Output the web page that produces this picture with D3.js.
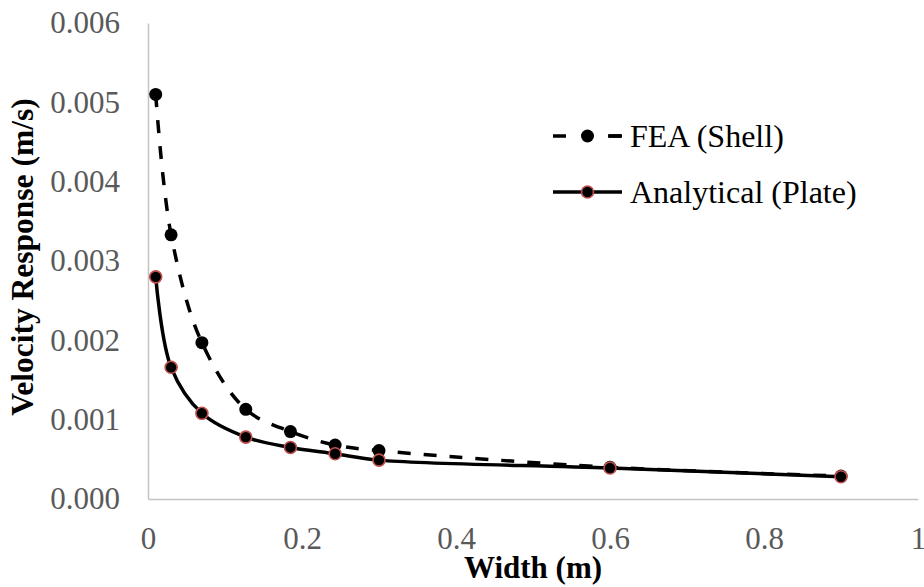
<!DOCTYPE html>
<html lang="en">
<head>
    <meta charset="UTF-8">
    <title>Velocity Response vs Width</title>
    <script src="https://cdnjs.cloudflare.com/ajax/libs/d3/7.9.0/d3.min.js"></script>
    <style>
        body { margin: 0; background: #fff; }
        svg { display: block; font-family: "Liberation Serif", "Times New Roman", serif; }
    </style>
</head>
<body>
    <div id="chart"></div>

    <script>
        // values
        const widths = [0.01, 0.03, 0.07, 0.127, 0.185, 0.243, 0.3, 0.6, 0.9];
        const feaShell = [0.0051, 0.00333, 0.00197, 0.00113, 0.00085, 0.00068, 0.00061, 0.00040, 0.00029];
        const analyticalPlate = [0.0028, 0.00166, 0.00108, 0.00078, 0.00065, 0.00057, 0.00049, 0.00039, 0.00028];
        const seriesNames = ["FEA (Shell)", "Analytical (Plate)"];
        const xTicks = [0, 0.2, 0.4, 0.6, 0.8, 1];
        const yTicks = [0, 0.001, 0.002, 0.003, 0.004, 0.005, 0.006];

        const width = 924, height = 587;
        const margin = { top: 23, right: 6, bottom: 88, left: 148 };
        const serif = '"Liberation Serif", "Times New Roman", serif';

        const svg = d3.select("#chart")
            .append("svg")
            .attr("width", width)
            .attr("height", height);

        const x = d3.scaleLinear()
            .domain([0, 1])
            .range([margin.left, width - margin.right]);

        const y = d3.scaleLinear()
            .domain([0, 0.006])
            .range([height - margin.bottom, margin.top]);

        // axes
        const xAxis = svg.append("g")
            .attr("transform", `translate(0,${height - margin.bottom})`)
            .call(d3.axisBottom(x).tickValues(xTicks).tickSize(0).tickFormat(d => d3.format("")(d)));

        xAxis.selectAll("text")
            .attr("y", 50)
            .attr("dy", "0")
            .attr("fill", "#595959")
            .style("font-family", serif)
            .style("font-size", "31px");

        const yAxis = svg.append("g")
            .attr("transform", `translate(${margin.left},0)`)
            .call(d3.axisLeft(y).tickValues(yTicks).tickSize(0).tickPadding(28).tickFormat(d3.format(".3f")));

        yAxis.selectAll("text")
            .attr("fill", "#595959")
            .style("font-family", serif)
            .style("font-size", "31px");

        svg.selectAll(".domain")
            .attr("stroke", "#c4c4c4")
            .attr("stroke-width", 1.5);

        // axis titles
        svg.append("text")
            .attr("x", (x.range()[0] + x.range()[1]) / 2)
            .attr("y", 578)
            .attr("text-anchor", "middle")
            .attr("font-weight", "bold")
            .style("font-size", "31px")
            .text("Width (m)");

        svg.append("text")
            .attr("transform", `translate(33,${(y.range()[0] + y.range()[1]) / 2 - 4}) rotate(-90)`)
            .attr("text-anchor", "middle")
            .attr("font-weight", "bold")
            .style("font-size", "31.5px")
            .text("Velocity Response (m/s)");

        const fea = widths.map((w, i) => ({ w, v: feaShell[i] }));
        const ana = widths.map((w, i) => ({ w, v: analyticalPlate[i] }));

        const line = d3.line()
            .x(d => x(d.w))
            .y(d => y(d.v))
            .curve(d3.curveCatmullRom.alpha(0.5));

        // FEA dashed series
        svg.append("path")
            .datum(fea)
            .attr("fill", "none")
            .attr("stroke", "#000")
            .attr("stroke-width", 3.5)
            .attr("stroke-dasharray", "13,13")
            .attr("d", line);

        svg.selectAll(".fea-dot")
            .data(fea)
            .enter().append("circle")
            .attr("class", "fea-dot")
            .attr("cx", d => x(d.w))
            .attr("cy", d => y(d.v))
            .attr("r", 6.5)
            .attr("fill", "#000");

        // Analytical solid series
        svg.append("path")
            .datum(ana)
            .attr("fill", "none")
            .attr("stroke", "#000")
            .attr("stroke-width", 3.5)
            .attr("d", line);

        svg.selectAll(".ana-dot")
            .data(ana)
            .enter().append("circle")
            .attr("class", "ana-dot")
            .attr("cx", d => x(d.w))
            .attr("cy", d => y(d.v))
            .attr("r", 6)
            .attr("fill", "#000")
            .attr("stroke", "#c0504d")
            .attr("stroke-width", 1.6);

        // legend
        const legend = svg.append("g");
        const legendRows = [
            { name: seriesNames[0], y: 136, dash: true, stroke: null },
            { name: seriesNames[1], y: 192, dash: false, stroke: "#c0504d" }
        ];

        legendRows.forEach(row => {
            legend.append("line")
                .attr("x1", 553)
                .attr("x2", 622)
                .attr("y1", row.y)
                .attr("y2", row.y)
                .attr("stroke", "#000")
                .attr("stroke-width", 3.5)
                .attr("stroke-dasharray", row.dash ? "13,42" : null)
                .attr("stroke-dashoffset", row.dash ? 0 : null);

            if (row.dash) {
                legend.append("line")
                    .attr("x1", 609)
                    .attr("x2", 622)
                    .attr("y1", row.y)
                    .attr("y2", row.y)
                    .attr("stroke", "#000")
                    .attr("stroke-width", 3.5);
            }

            legend.append("circle")
                .attr("cx", 587.5)
                .attr("cy", row.y)
                .attr("r", row.stroke ? 6 : 6.5)
                .attr("fill", "#000")
                .attr("stroke", row.stroke)
                .attr("stroke-width", row.stroke ? 1.6 : null);

            legend.append("text")
                .attr("x", 630)
                .attr("y", row.y)
                .attr("dy", "0.35em")
                .style("font-size", "32px")
                .text(row.name);
        });
    </script>
</body>
</html>
